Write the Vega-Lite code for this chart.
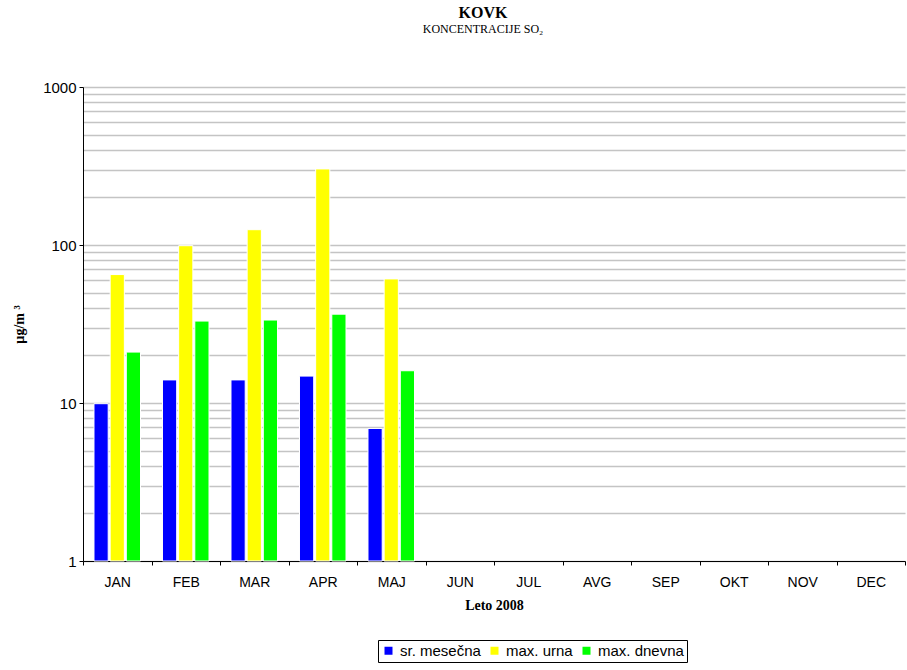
{
  "$schema": "https://vega.github.io/schema/vega-lite/v6.json",
  "width": 822,
  "height": 474,
  "autosize": {"type": "none"},
  "padding": {"left": 83, "top": 87, "right": 2, "bottom": 109},
  "background": "white",
  "title": {
    "text": "KOVK",
    "subtitle": "KONCENTRACIJE  SO₂",
    "font": "Liberation Serif",
    "fontSize": 16,
    "fontWeight": "bold",
    "subtitleFont": "Liberation Serif",
    "subtitleFontSize": 12,
    "subtitlePadding": 3,
    "color": "black",
    "subtitleColor": "black",
    "anchor": "middle",
    "dx": -11,
    "offset": 45
  },
  "data": {
    "values": [
      {"mesec": "JAN", "serija": "sr. mesečna", "vrednost": 9.9},
      {"mesec": "JAN", "serija": "max. urna", "vrednost": 65},
      {"mesec": "JAN", "serija": "max. dnevna", "vrednost": 21},
      {"mesec": "FEB", "serija": "sr. mesečna", "vrednost": 14},
      {"mesec": "FEB", "serija": "max. urna", "vrednost": 99},
      {"mesec": "FEB", "serija": "max. dnevna", "vrednost": 33},
      {"mesec": "MAR", "serija": "sr. mesečna", "vrednost": 14},
      {"mesec": "MAR", "serija": "max. urna", "vrednost": 125},
      {"mesec": "MAR", "serija": "max. dnevna", "vrednost": 33.5},
      {"mesec": "APR", "serija": "sr. mesečna", "vrednost": 14.8},
      {"mesec": "APR", "serija": "max. urna", "vrednost": 303},
      {"mesec": "APR", "serija": "max. dnevna", "vrednost": 36.5},
      {"mesec": "MAJ", "serija": "sr. mesečna", "vrednost": 6.9},
      {"mesec": "MAJ", "serija": "max. urna", "vrednost": 61},
      {"mesec": "MAJ", "serija": "max. dnevna", "vrednost": 16}
    ]
  },
  "mark": {"type": "bar", "stroke": "white", "strokeWidth": 1},
  "encoding": {
    "x": {
      "field": "mesec",
      "type": "nominal",
      "sort": null,
      "scale": {
        "domain": ["JAN", "FEB", "MAR", "APR", "MAJ", "JUN", "JUL", "AVG", "SEP", "OKT", "NOV", "DEC"],
        "paddingInner": 0,
        "paddingOuter": 0
      },
      "axis": {
        "title": "Leto 2008",
        "titleFont": "Liberation Serif",
        "titleFontSize": 14,
        "titleFontWeight": "bold",
        "titleColor": "black",
        "titlePadding": 9,
        "labelAngle": 0,
        "labelFont": "Liberation Sans",
        "labelFontSize": 14,
        "labelColor": "black",
        "labelPadding": 10,
        "tickBand": "extent",
        "tickSize": 4,
        "tickColor": "black",
        "domainColor": "black",
        "grid": false
      }
    },
    "xOffset": {
      "field": "serija",
      "type": "nominal",
      "sort": ["sr. mesečna", "max. urna", "max. dnevna"],
      "scale": {"paddingInner": 0.12, "paddingOuter": 0.68}
    },
    "y": {
      "field": "vrednost",
      "type": "quantitative",
      "scale": {"type": "log", "domain": [1, 1000], "nice": false},
      "axis": {
        "title": "µg/m ³",
        "titleFont": "Liberation Serif",
        "titleFontSize": 14,
        "titleFontWeight": "bold",
        "titleColor": "black",
        "titlePadding": 16,
        "values": [1, 2, 3, 4, 5, 6, 7, 8, 9, 10, 20, 30, 40, 50, 60, 70, 80, 90, 100, 200, 300, 400, 500, 600, 700, 800, 900, 1000],
        "labelExpr": "indexof([1,10,100,1000], datum.value) >= 0 ? format(datum.value, 'd') : ''",
        "labelFont": "Liberation Sans",
        "labelFontSize": 15,
        "labelColor": "black",
        "labelPadding": 3,
        "tickSize": 4,
        "tickColor": "black",
        "tickOpacity": {"condition": {"test": "indexof([1,10,100,1000], datum.value) >= 0", "value": 1}, "value": 0},
        "domainColor": "black",
        "grid": true,
        "gridColor": "#c4c4c4",
        "gridWidth": 1.5
      }
    },
    "y2": {"datum": 1},
    "color": {
      "field": "serija",
      "type": "nominal",
      "sort": ["sr. mesečna", "max. urna", "max. dnevna"],
      "scale": {
        "domain": ["sr. mesečna", "max. urna", "max. dnevna"],
        "range": ["#0000ff", "#ffff00", "#00ff00"]
      },
      "legend": {
        "title": null,
        "orient": "none",
        "legendX": 295,
        "legendY": 553,
        "direction": "horizontal",
        "symbolType": "square",
        "symbolSize": 64,
        "symbolStrokeWidth": 0,
        "labelFont": "Liberation Sans",
        "labelFontSize": 15,
        "labelColor": "black",
        "columnPadding": 6,
        "labelOffset": 4,
        "strokeColor": "black",
        "padding": 3,
        "fillColor": "white"
      }
    }
  },
  "config": {
    "view": {"stroke": null}
  }
}
